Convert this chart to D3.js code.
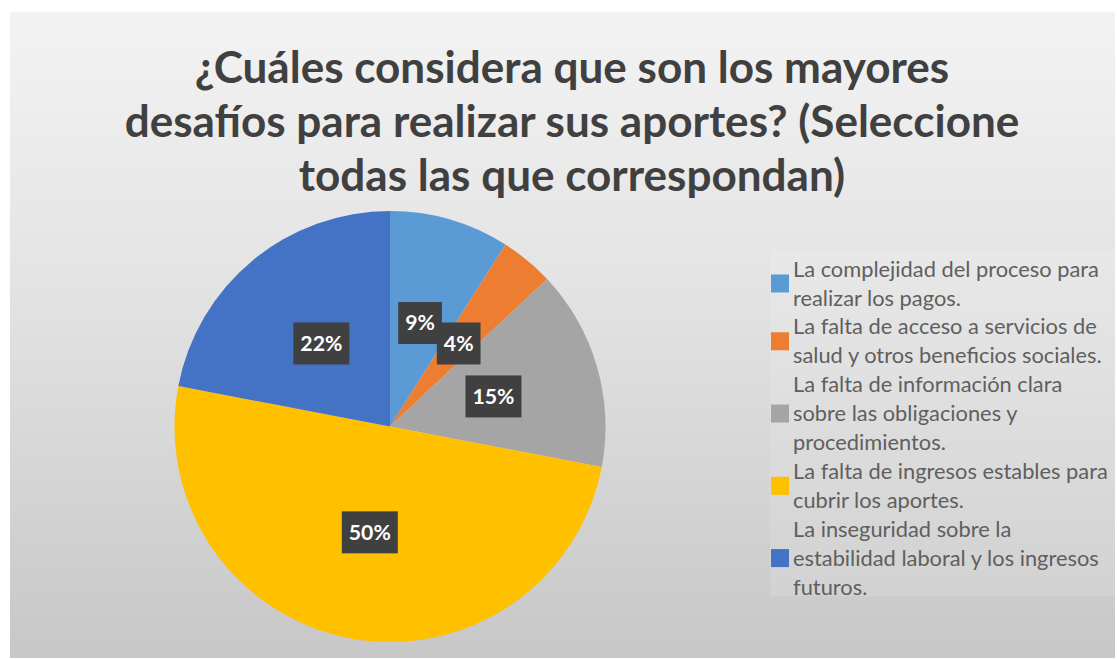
<!DOCTYPE html>
<html>
<head>
<meta charset="utf-8">
<script src="https://cdn.jsdelivr.net/npm/d3@7"></script>
<style>
  body { margin: 0; background: #fff; }
</style>
</head>
<body>
<div class="canvas"></div>
<script>
// data
const titleLines = [
  "¿Cuáles considera que son los mayores",
  "desafíos para realizar sus aportes? (Seleccione",
  "todas las que correspondan)"
];
const categories = [
  "La complejidad del proceso para realizar los pagos.",
  "La falta de acceso a servicios de salud y otros beneficios sociales.",
  "La falta de información clara sobre las obligaciones y procedimientos.",
  "La falta de ingresos estables para cubrir los aportes.",
  "La inseguridad sobre la estabilidad laboral y los ingresos futuros."
];
// legend text as it wraps in the picture
const legendLines = [
  ["La complejidad del proceso para", "realizar los pagos."],
  ["La falta de acceso a servicios de", "salud y otros beneficios sociales."],
  ["La falta de información clara", "sobre las obligaciones y", "procedimientos."],
  ["La falta de ingresos estables para", "cubrir los aportes."],
  ["La inseguridad sobre la", "estabilidad laboral y los ingresos", "futuros."]
];
const values = [9, 4, 15, 50, 22];
const colors = ["#5B9BD5", "#ED7D31", "#A5A5A5", "#FFC000", "#4472C4"];

const W = 1117, H = 659;
const font = "Lato, 'Open Sans', sans-serif";

const svg = d3.select(".canvas").append("svg")
  .attr("width", W)
  .attr("height", H);

// background gradient
const defs = svg.append("defs");
const grad = defs.append("linearGradient")
  .attr("id", "bg")
  .attr("x1", 0).attr("y1", 0).attr("x2", 0).attr("y2", 1);
grad.append("stop").attr("offset", "0%").attr("stop-color", "#f3f3f3");
grad.append("stop").attr("offset", "45%").attr("stop-color", "#e2e2e2");
grad.append("stop").attr("offset", "100%").attr("stop-color", "#c7c7c7");

svg.append("rect")
  .attr("x", 10).attr("y", 12)
  .attr("width", W - 12).attr("height", H - 13)
  .attr("fill", "url(#bg)");

// title, sized to the width of the long line
const title = svg.append("g");
const probe = title.append("text")
  .style("font-family", font).style("font-weight", 700).style("font-size", "40px")
  .text(titleLines[1]);
const titleSize = 40 * 895 / probe.node().getComputedTextLength();
probe.remove();

const titleY = d3.scaleLinear().domain([0, 2]).range([83, 191]);
title.selectAll("text")
  .data(titleLines)
  .join("text")
  .attr("x", 572)
  .attr("y", (d, i) => titleY(i))
  .attr("text-anchor", "middle")
  .attr("fill", "#404040")
  .style("font-family", font)
  .style("font-weight", 700)
  .style("font-size", titleSize + "px")
  .text(d => d);

// pie
const cx = 390, cy = 426.5, R = 215.5;
const pie = d3.pie().sort(null).value(d => d);
const arcs = pie(values);
const arc = d3.arc().innerRadius(0).outerRadius(R);
const labelArc = d3.arc().innerRadius(R * 0.5).outerRadius(R * 0.5);

const g = svg.append("g").attr("transform", `translate(${cx},${cy})`);

g.selectAll("path")
  .data(arcs)
  .join("path")
  .attr("d", arc)
  .attr("fill", (d, i) => colors[i]);

// data labels
const lp = svg.append("text")
  .style("font-family", font).style("font-weight", 700).style("font-size", "20px")
  .text("50%");
const labelSize = 20 * 42 / lp.node().getComputedTextLength();
lp.remove();

const labels = g.selectAll("g.lab")
  .data(arcs)
  .join("g")
  .attr("class", "lab")
  .attr("transform", d => `translate(${labelArc.centroid(d)})`);

labels.append("text")
  .attr("text-anchor", "middle")
  .attr("dy", "0.35em")
  .attr("fill", "#ffffff")
  .style("font-family", font)
  .style("font-weight", 700)
  .style("font-size", labelSize + "px")
  .text(d => d.value + "%");

labels.insert("rect", "text")
  .each(function() {
    const t = d3.select(this.parentNode).select("text").node().getBBox();
    d3.select(this)
      .attr("x", t.x - 7).attr("y", -21)
      .attr("width", t.width + 14).attr("height", 42);
  })
  .attr("fill", "#404040");

// legend
const legend = svg.append("g");
legend.append("rect")
  .attr("x", 770).attr("y", 250)
  .attr("width", 345).attr("height", 346)
  .attr("fill", "#ffffff").attr("fill-opacity", 0.12);

const lgp = legend.append("text")
  .style("font-family", font).style("font-size", "18px")
  .text(legendLines[0][0]);
const legendSize = 18 * 306 / lgp.node().getComputedTextLength();
lgp.remove();

const lineY = d3.scaleLinear().domain([0, 11]).range([269, 587]);
let k = 0;
legendLines.forEach((lines, i) => {
  const first = k;
  lines.forEach(line => {
    legend.append("text")
      .attr("x", 793)
      .attr("y", lineY(k))
      .attr("dy", "0.35em")
      .attr("fill", "#5f5f5f")
      .style("font-family", font)
      .style("font-size", legendSize + "px")
      .text(line);
    k++;
  });
  const mid = (lineY(first) + lineY(k - 1)) / 2;
  legend.append("rect")
    .attr("x", 771).attr("y", mid - 9)
    .attr("width", 18).attr("height", 18)
    .attr("fill", colors[i]);
});
</script>
</body>
</html>
